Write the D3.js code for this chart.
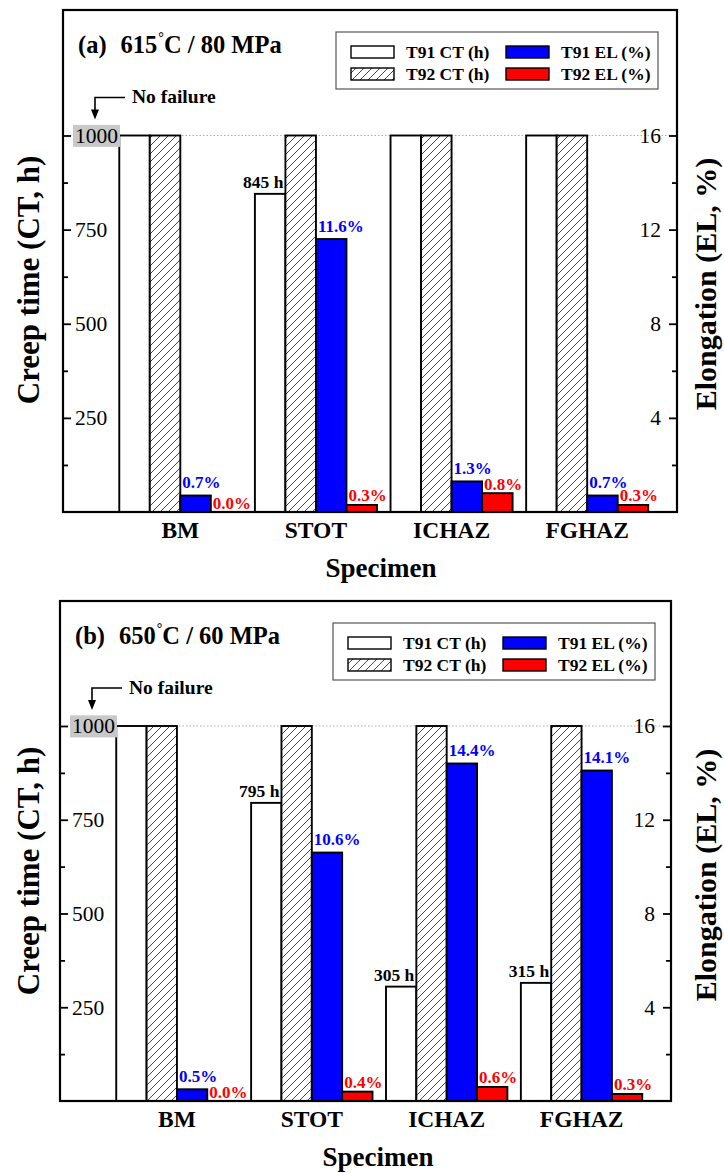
<!DOCTYPE html>
<html><head><meta charset="utf-8">
<script src="https://cdn.jsdelivr.net/npm/d3@7"></script>
<style>body{margin:0;background:#fff}svg{display:block}</style>
</head><body>
<svg id="chart" width="724" height="1173"></svg>
<script>
// ---------- data ----------
const categories = ["BM", "STOT", "ICHAZ", "FGHAZ"];
const seriesNames = ["T91 CT (h)", "T92 CT (h)", "T91 EL (%)", "T92 EL (%)"];

const a_T91CT = [1000, 845, 1000, 1000];
const a_T92CT = [1000, 1000, 1000, 1000];
const a_T91EL = [0.7, 11.6, 1.3, 0.7];
const a_T92EL = [0.0, 0.3, 0.8, 0.3];

const b_T91CT = [1000, 795, 305, 315];
const b_T92CT = [1000, 1000, 1000, 1000];
const b_T91EL = [0.5, 10.6, 14.4, 14.1];
const b_T92EL = [0.0, 0.4, 0.6, 0.3];

const ctTicks = [250, 500, 750, 1000];
const ctMinor = [125, 375, 625, 875];
const elTicks = [4, 8, 12, 16];
const elMinor = [2, 6, 10, 14];
const ctMax = 1333.33, elMax = 21.333;

const panels = [
  {tag: "(a)", temp: "615", rest: "C / 80 MPa", left: 63, right: 677, top: 10, bottom: 512,
   series: [a_T91CT, a_T92CT, a_T91EL, a_T92EL]},
  {tag: "(b)", temp: "650", rest: "C / 60 MPa", left: 60, right: 671, top: 601, bottom: 1101,
   series: [b_T91CT, b_T92CT, b_T91EL, b_T92EL]}
];

// ---------- drawing ----------
const svg = d3.select("#chart");
const FONT = "'Liberation Serif','Times New Roman',serif";
const fills = ["#ffffff", "url(#hatch)", "#0000ff", "#ff0000"];

const defs = svg.append("defs");
const pat = defs.append("pattern").attr("id", "hatch").attr("patternUnits", "userSpaceOnUse")
  .attr("width", 8).attr("height", 8);
pat.append("rect").attr("width", 8).attr("height", 8).attr("fill", "#fff");
pat.append("path").attr("d", "M0,8 L8,0 M-2,2 L2,-2 M6,10 L10,6")
  .attr("stroke", "#333").attr("stroke-width", 0.9);

panels.forEach(p => {
  const g = svg.append("g");
  const x = d3.scaleBand().domain(categories).range([p.left + 49.5, p.right - 22])
    .paddingInner(0.1).paddingOuter(0.05);
  const xs = d3.scaleBand().domain(d3.range(4)).range([0, x.bandwidth()]);
  const yCT = d3.scaleLinear().domain([0, ctMax]).range([p.bottom, p.top]);
  const yEL = d3.scaleLinear().domain([0, elMax]).range([p.bottom, p.top]);
  const yOf = i => (i < 2 ? yCT : yEL);

  // dotted reference line at 1000 h
  g.append("line").attr("x1", p.left).attr("x2", p.right)
    .attr("y1", yCT(1000)).attr("y2", yCT(1000))
    .attr("stroke", "#b0b0b0").attr("stroke-width", 1).attr("stroke-dasharray", "1.5,2");

  // bars
  categories.forEach((c, ci) => {
    p.series.forEach((vals, si) => {
      const y = yOf(si);
      const bx = x(c) + xs(si);
      g.append("rect").attr("x", bx).attr("width", xs.bandwidth())
        .attr("y", y(vals[ci])).attr("height", p.bottom - y(vals[ci]))
        .attr("fill", fills[si]).attr("stroke", "#000").attr("stroke-width", 1.9);
    });
  });

  // value labels
  categories.forEach((c, ci) => {
    const ct = p.series[0][ci];
    if (ct < 1000) {
      g.append("text").attr("x", x(c) + xs(0) + xs.bandwidth() - 2).attr("y", yCT(ct) - 6)
        .attr("text-anchor", "end").attr("font-family", FONT).attr("font-weight", "bold")
        .attr("font-size", 17.5).attr("fill", "#000").text(ct + " h");
    }
    [2, 3].forEach(si => {
      const v = p.series[si][ci];
      g.append("text").attr("x", x(c) + xs(si) + 2).attr("y", yEL(v) - (si === 2 ? 7.5 : 3.5))
        .attr("font-family", FONT).attr("font-weight", "bold").attr("font-size", 17)
        .attr("fill", si === 2 ? "#0000ff" : "#ff0000").text(v.toFixed(1) + "%");
    });
  });

  // left axis (ticks inward, labels inside)
  const la = g.append("g").attr("transform", `translate(${p.left},0)`)
    .call(d3.axisRight(yCT).tickValues(ctTicks).tickSize(8).tickPadding(4).tickFormat(d3.format("d")));
  g.append("g").attr("transform", `translate(${p.left},0)`)
    .call(d3.axisRight(yCT).tickValues(ctMinor).tickSize(5).tickFormat(""));
  // right axis
  const ra = g.append("g").attr("transform", `translate(${p.right},0)`)
    .call(d3.axisLeft(yEL).tickValues(elTicks).tickSize(8).tickPadding(8).tickFormat(d3.format("d")));
  g.append("g").attr("transform", `translate(${p.right},0)`)
    .call(d3.axisLeft(yEL).tickValues(elMinor).tickSize(5).tickFormat(""));
  g.selectAll(".domain").remove();
  g.selectAll(".tick line").attr("stroke", "#000").attr("stroke-width", 1.8);
  [la, ra].forEach(a => a.selectAll("text").attr("font-family", FONT).attr("font-size", 21.5)
    .attr("fill", "#000"));

  // grey box behind 1000
  la.selectAll(".tick").filter(d => d === 1000).each(function () {
    const t = d3.select(this).select("text");
    const bb = t.node().getBBox();
    d3.select(this).insert("rect", "text").attr("x", bb.x - 2).attr("y", bb.y + 1)
      .attr("width", bb.width + 4).attr("height", bb.height - 2).attr("fill", "#c8c8c8");
  });

  // category axis
  const xa = g.append("g").attr("transform", `translate(0,${p.bottom})`)
    .call(d3.axisBottom(x).tickSize(0).tickPadding(9));
  xa.select(".domain").remove();
  xa.selectAll("text").attr("font-family", FONT).attr("font-weight", "bold")
    .attr("font-size", 23.5).attr("fill", "#000");

  // frame
  g.append("rect").attr("x", p.left).attr("y", p.top)
    .attr("width", p.right - p.left).attr("height", p.bottom - p.top)
    .attr("fill", "none").attr("stroke", "#000").attr("stroke-width", 2.2);

  // title
  const tt = g.append("text").attr("x", p.left + 15).attr("y", p.top + 43)
    .attr("font-family", FONT).attr("font-weight", "bold").attr("font-size", 24.5).attr("fill", "#000");
  tt.append("tspan").text(p.tag);
  tt.append("tspan").attr("dx", 14).text(p.temp);
  tt.append("tspan").attr("font-size", 14).attr("dx", 1).attr("dy", -11).text("°");
  tt.append("tspan").attr("dy", 11).text(p.rest);

  // No failure annotation
  const ay = yCT(1000) - 38, ax = p.left + 32;
  g.append("path").attr("d", `M${ax + 30},${ay} H${ax} V${yCT(1000) - 24}`)
    .attr("fill", "none").attr("stroke", "#000").attr("stroke-width", 1.6);
  g.append("path").attr("d", `M${ax - 4},${yCT(1000) - 26} L${ax + 4},${yCT(1000) - 26} L${ax},${yCT(1000) - 16} Z`)
    .attr("fill", "#000");
  g.append("text").attr("x", p.left + 69).attr("y", yCT(1000) - 32)
    .attr("font-family", FONT).attr("font-weight", "bold").attr("font-size", 19.5).attr("fill", "#000")
    .text("No failure");

  // legend
  const lx = p.left + 273, ly = p.top + 22;
  const lg = g.append("g").attr("transform", `translate(${lx},${ly})`);
  lg.append("rect").attr("width", 322).attr("height", 57).attr("fill", "#fff")
    .attr("stroke", "#555").attr("stroke-width", 1.2);
  seriesNames.forEach((s, i) => {
    const col = i < 2 ? 0 : 1, row = i % 2;
    const sx = 15 + col * 155, sy = 14 + row * 22;
    lg.append("rect").attr("x", sx).attr("y", sy).attr("width", 43).attr("height", 12)
      .attr("fill", fills[i]).attr("stroke", "#000").attr("stroke-width", 1.4);
    lg.append("text").attr("x", sx + 55).attr("y", sy + 11.5)
      .attr("font-family", FONT).attr("font-weight", "bold").attr("font-size", 17.5).attr("fill", "#000")
      .text(s);
  });

  // axis titles
  g.append("text").attr("transform", `translate(39,${p.top + 270}) rotate(-90)`)
    .attr("text-anchor", "middle").attr("font-family", FONT).attr("font-weight", "bold")
    .attr("font-size", 31).attr("fill", "#000").text("Creep time (CT, h)");
  g.append("text").attr("transform", `translate(716,${p.top + 274}) rotate(-90)`)
    .attr("text-anchor", "middle").attr("font-family", FONT).attr("font-weight", "bold")
    .attr("font-size", 30).attr("fill", "#000").text("Elongation (EL, %)");
  g.append("text").attr("x", p.left + 318).attr("y", p.bottom + 65)
    .attr("text-anchor", "middle").attr("font-family", FONT).attr("font-weight", "bold")
    .attr("font-size", 27).attr("fill", "#000").text("Specimen");
});
</script>
</body></html>
